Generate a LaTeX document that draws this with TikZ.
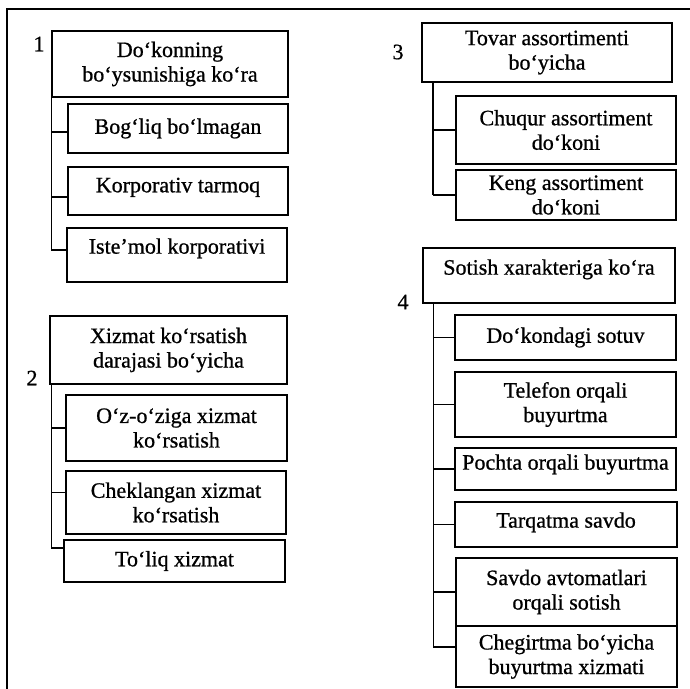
\documentclass[tikz,border=0pt]{standalone}
\usepackage{fontspec}
\setmainfont{Liberation Serif}[UprightFeatures={FakeBold=0.8}]

\begin{document}
\begin{tikzpicture}[x=1pt,y=-1pt]
          \tikzstyle{box}=[draw,line width=1.3pt,align=center,inner sep=2pt,font=\fontsize{22}{24.5}\selectfont]
          \tikzstyle{hi}=[text depth=#1]
          \tikzstyle{num}=[font=\fontsize{22}{24}\selectfont]
          \tikzstyle{link}=[draw,line width=1.5pt]
          \tikzstyle{frame}=[draw,line width=1.2pt]
          \useasboundingbox (0,0) rectangle (690,688);
          \clip (0,0) rectangle (690,688);
          \draw[frame] (7,700) |- (700,9);
          % 1
          \node[num] (n1) at (39,44) {1};
          \node[box,minimum width=236pt,minimum height=66pt] (h1) at (170,64) {Do‘konning\\bo‘ysunishiga ko‘ra};
          \node[box,minimum width=220pt,minimum height=49pt] (s11) at (178,128.5) {Bog‘liq bo‘lmagan};
          \node[box,hi=12pt,minimum width=220pt,minimum height=48pt] (s12) at (178,191) {Korporativ tarmoq};
          \node[box,hi=18pt,minimum width=220pt,minimum height=54pt] (s13) at (177,255) {Iste’mol korporativi};
          % 2
          \node[num] (n2) at (32,378) {2};
          \node[box,minimum width=237pt,minimum height=68pt] (h2) at (168.5,350) {Xizmat ko‘rsatish\\darajasi bo‘yicha};
          \node[box,minimum width=221pt,minimum height=66pt] (s21) at (176.5,428) {O‘z-o‘ziga xizmat\\ko‘rsatish};
          \node[box,minimum width=220pt,minimum height=63pt] (s22) at (176,502.5) {Cheklangan xizmat\\ko‘rsatish};
          \node[box,minimum width=221pt,minimum height=42pt] (s23) at (174.5,561) {To‘liq xizmat};
          % 3
          \node[num] (n3) at (398,52) {3};
          \node[box,minimum width=250pt,minimum height=59pt] (h3) at (547,52.5) {Tovar assortimenti\\bo‘yicha};
          \node[box,minimum width=220pt,minimum height=68pt] (s31) at (566,130) {Chuqur assortiment\\do`koni};
          \node[box,minimum width=220pt,minimum height=50pt] (s32) at (566,195) {Keng assortiment\\do‘koni};
          % 4
          \node[num] (n4) at (403,302) {4};
          \node[box,hi=17pt,minimum width=252pt,minimum height=55pt] (h4) at (549,275.5) {Sotish xarakteriga ko‘ra};
          \node[box,minimum width=221pt,minimum height=45pt] (s41) at (565.5,337.5) {Do‘kondagi sotuv};
          \node[box,minimum width=221pt,minimum height=65pt] (s42) at (565.5,404.5) {Telefon orqali\\buyurtma};
          \node[box,hi=14pt,minimum width=221pt,minimum height=42pt] (s43) at (565.5,469) {Pochta orqali buyurtma};
          \node[box,hi=9pt,minimum width=222pt,minimum height=45pt] (s44) at (566,524.5) {Tarqatma savdo};
          \node[box,minimum width=221pt,minimum height=68pt] (s45) at (566.5,592) {Savdo avtomatlari\\orqali sotish};
          \node[box,minimum width=221pt,minimum height=61pt] (s46) at (566.5,656.5) {Chegirtma bo‘yicha\\buyurtma xizmati};
          % trunks
          \coordinate (t1) at (h1.south west);
          \coordinate (t2) at ([xshift=2pt]h2.south west);
          \coordinate (t3) at ([xshift=11.5pt]h3.south west);
          \coordinate (t4) at ([xshift=11pt]h4.south west);
          \coordinate (b11) at ([yshift=-3.5pt]s11.west);
          \coordinate (b12) at ([yshift=-6pt]s12.west);
          \coordinate (b13) at ([yshift=5pt]s13.west);
          \coordinate (b21) at (s21.west);
          \coordinate (b22) at ([yshift=10pt]s22.west);
          \coordinate (b23) at ([yshift=13pt]s23.west);
          \coordinate (b31) at (s31.west);
          \coordinate (b32) at (s32.west);
          \coordinate (b41) at (s41.west);
          \coordinate (b42) at (s42.west);
          \coordinate (b43) at (s43.west);
          \coordinate (b44) at (s44.west);
          \coordinate (b45) at (s45.west);
          \coordinate (b46) at ([yshift=9.5pt]s46.west);
          \draw[link] (t1) -- (t1 |- b13);
          \draw[link] (t2) -- (t2 |- b23);
          \draw[link] (t3) -- (t3 |- b32);
          \draw[link] (t4) -- (t4 |- b46);
          \foreach \v in {11,12,13}
            \draw[link] (t1 |- b\v) -- (b\v);
          \foreach \v in {21,22,23}
            \draw[link] (t2 |- b\v) -- (b\v);
          \foreach \v in {31,32}
            \draw[link] (t3 |- b\v) -- (b\v);
          \foreach \v in {41,42,43,44,45,46}
            \draw[link] (t4 |- b\v) -- (b\v);
        \end{tikzpicture}
\end{document}
